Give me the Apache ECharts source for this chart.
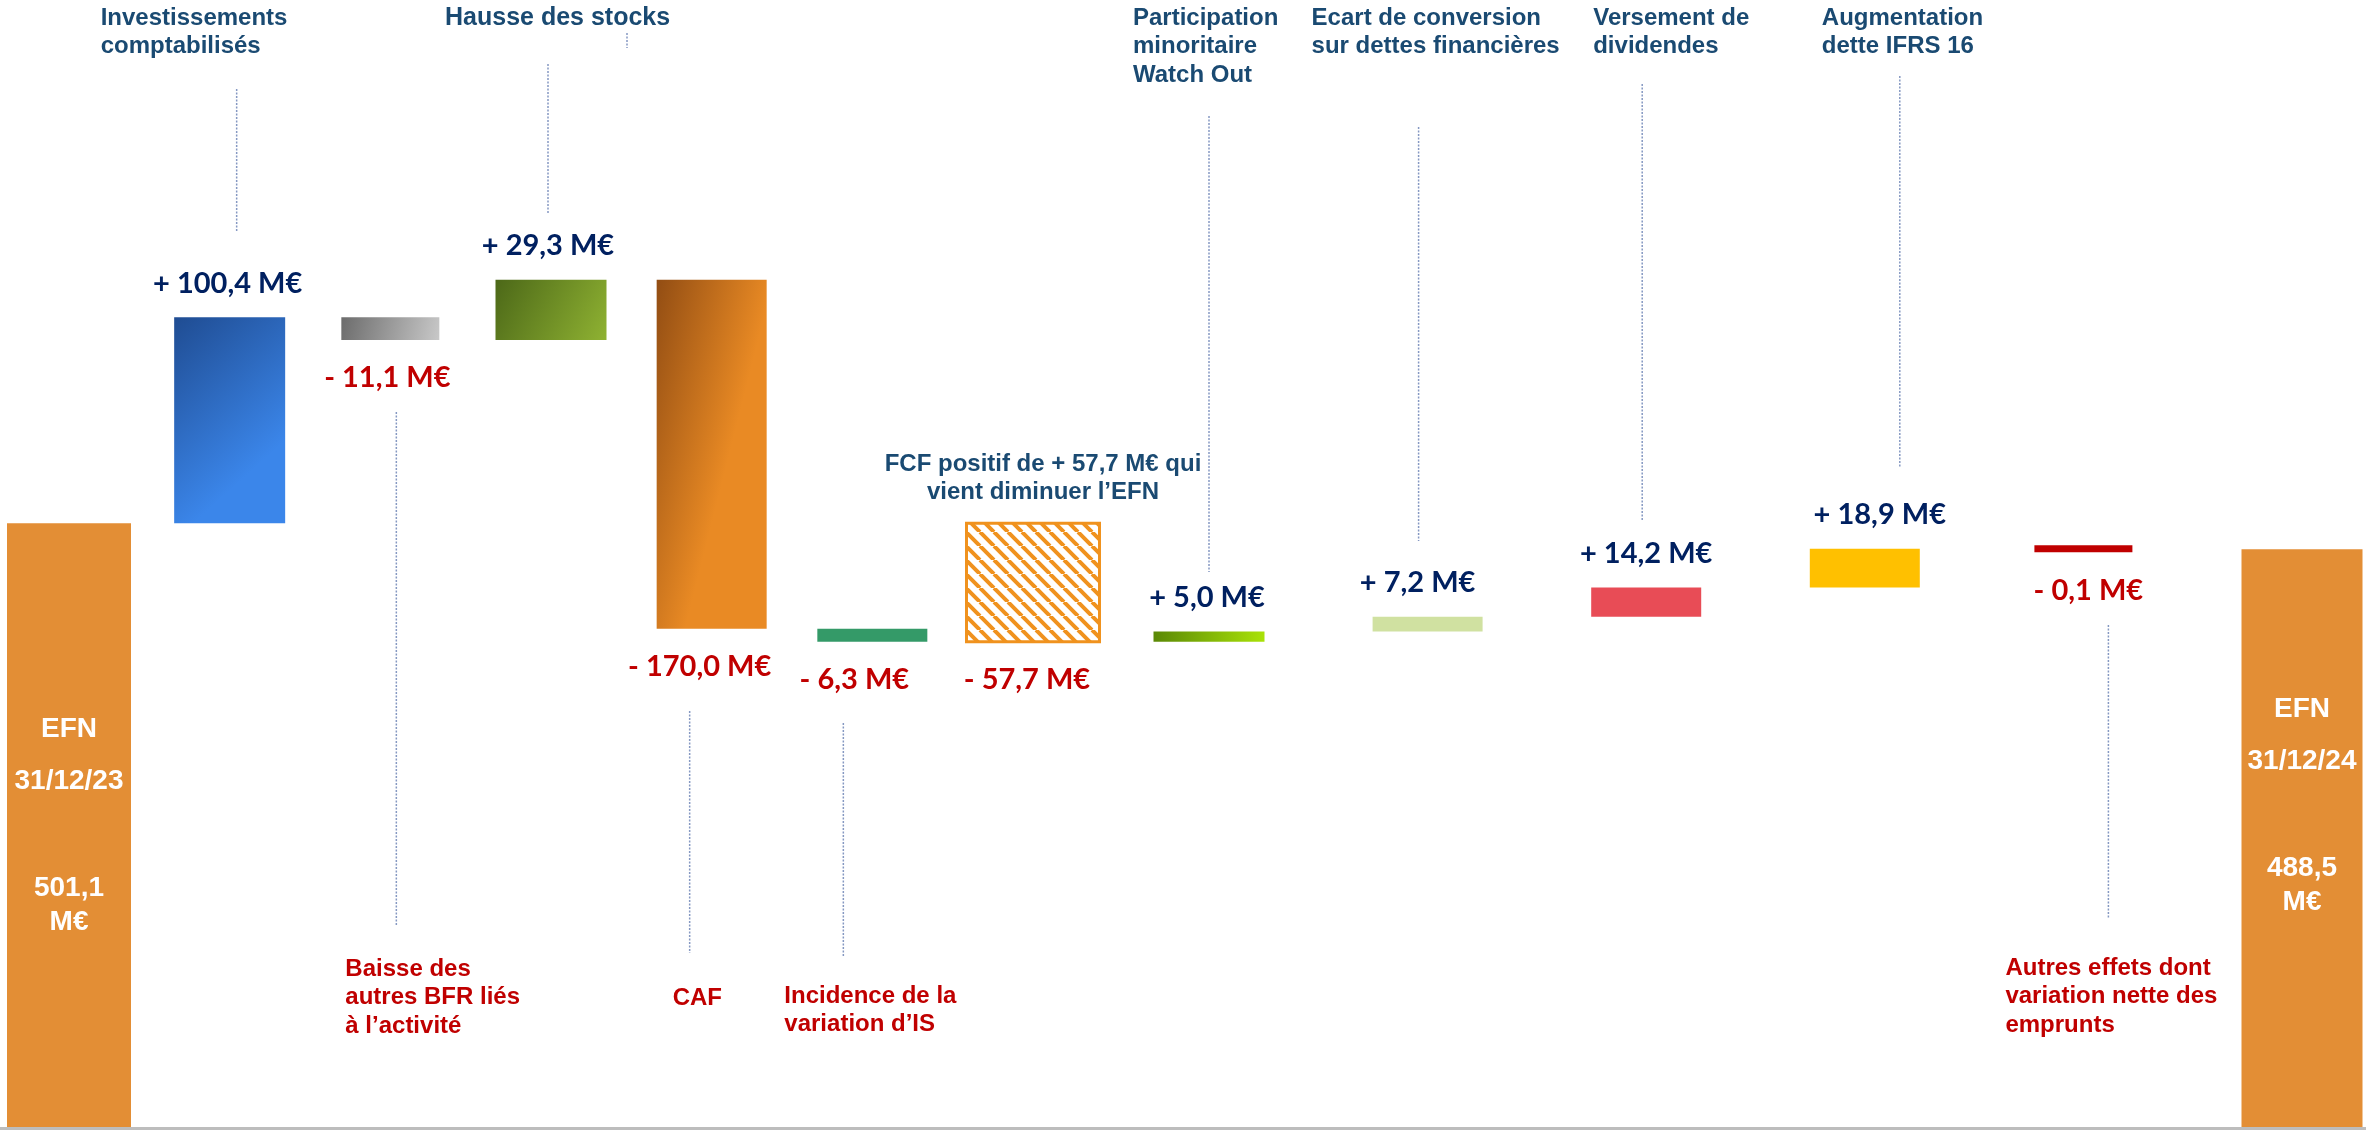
<!DOCTYPE html>
<html><head><meta charset="utf-8">
<script src="https://cdn.jsdelivr.net/npm/echarts@6/dist/echarts.min.js"></script>
<style>html,body{margin:0;padding:0;background:#fff;overflow:hidden}#c{width:2366px;height:1130px}</style>
</head><body><div id="c"></div>
<script>
// ---------------- DATA ----------------
const categories = [
  'EFN\n31/12/23',
  'Investissements\ncomptabilisés',
  'Baisse des\nautres BFR liés\nà l’activité',
  'Hausse des stocks',
  'CAF',
  'Incidence de la\nvariation d’IS',
  'FCF',
  'Participation\nminoritaire\nWatch Out',
  'Ecart de conversion\nsur dettes financières',
  'Versement de\ndividendes',
  'Augmentation\ndette IFRS 16',
  'Autres effets dont\nvariation nette des\nemprunts',
  'EFN\n31/12/24'
];
const values = [501.1, 100.4, -11.1, 29.3, -170.0, -6.3, -57.7, 5.0, 7.2, 14.2, 18.9, -0.1, 488.5];
const kinds  = ['total','step','step','step','step','step','subtotal','step','step','step','step','step','total'];
const fcfNote = 'FCF positif de + 57,7 M€ qui\nvient diminuer l’EFN';

// ---------------- LAYOUT / STYLE ----------------
const Y_MIN = 207, Y_MAX = 756;
const LEFT_COUNT = 7;
const MIN_H = 7;
const widths = [124,111,98,111,110,110,133,111,110,110,110,98,121];
const NAVY = '#002060', RED = '#C00000', TEAL = '#1A4A72', ORANGE = '#E38E35';
function lg(x, y, x2, y2, c1, c2) {
  return {type:'linear', x:x, y:y, x2:x2, y2:y2, colorStops:[{offset:0,color:c1},{offset:1,color:c2}]};
}
function hatch() {
  const s = 14, c = document.createElement('canvas');
  c.width = s; c.height = s;
  const g = c.getContext('2d');
  g.fillStyle = '#fff'; g.fillRect(0,0,s,s);
  g.strokeStyle = '#F0921E'; g.lineWidth = 4;
  g.beginPath();
  [-s, 0, s].forEach(k => { g.moveTo(k, 0); g.lineTo(k + s, s); });
  g.stroke();
  return c;
}
const fills = [
  ORANGE,
  lg(0,0,1,0.6,'#1F4C92','#3B86EA'),
  lg(0,0,1,1,'#6C6C6C','#C8C8C8'),
  lg(0,0,1,1,'#4C6818','#8FB232'),
  lg(0,0,1,0.08,'#924D13','#E98A24'),
  '#349A68',
  {image: hatch(), repeat:'repeat'},
  lg(0,0,1,0.5,'#5A8806','#A9E208'),
  '#D0E1A1',
  '#E84C56',
  '#FFC000',
  '#C00000',
  ORANGE
];
// annotation layout: dx relative to bar centre, top = y of text block top
const notes = {
  1:  {dx:-129, top:4,   color:TEAL, lead:{dx:7,   y:[89,232]}},
  2:  {dx:-45,  top:955, color:RED,  lead:{dx:6,   y:[412,925]}},
  3:  {dx:-106, top:4,   color:TEAL, size:25, lead:{dx:-3, y:[64,214]}, lead2:{dx:76, y:[33,48]}},
  4:  {dx:-39,  top:984, color:RED,  lead:{dx:-22, y:[711,953]}},
  5:  {dx:-88,  top:982, color:RED,  lead:{dx:-29, y:[723,956]}},
  7:  {dx:-76,  top:4,   color:TEAL, lead:{dx:0,   y:[116,572]}},
  8:  {dx:-116, top:4,   color:TEAL, lead:{dx:-9,  y:[127,541]}},
  9:  {dx:-53,  top:4,   color:TEAL, lead:{dx:-4,  y:[84,521]}},
  10: {dx:-43,  top:4,   color:TEAL, lead:{dx:35,  y:[76,467]}},
  11: {dx:-78,  top:954, color:RED,  lead:{dx:25,  y:[625,919]}}
};
const labelDx = [0,-2,-3,-3,-12,-18,-6,-2,-10,0,15,5,0];
const totalFromBottom = {0:398, 12:418};
const totalLineOffsets = [0, 52, 159, 193];

// ---------------- WATERFALL ----------------
const bars = [];
let level = 0, lastTotal = 0;
values.forEach((v, i) => {
  let lo, hi;
  if (kinds[i] === 'total') { lo = 0; hi = v; level = v; lastTotal = v; }
  else if (kinds[i] === 'subtotal') { lo = Math.min(lastTotal, lastTotal + v); hi = Math.max(lastTotal, lastTotal + v); }
  else { lo = Math.min(level, level + v); hi = Math.max(level, level + v); level += v; }
  bars.push([lo, hi]);
});
function fmtNum(v) { return Math.abs(v).toFixed(1).replace('.', ','); }
function fmtDelta(v) { return (v >= 0 ? '+ ' : '- ') + fmtNum(v) + ' M€'; }

function txt(text, x, y, o) {
  return {type:'text', z2:10, style:{
    text:text, x:x, y:y, fill:o.fill, fontFamily:o.family || 'Liberation Sans',
    fontWeight:'bold', fontSize:o.size || 24, align:o.align || 'left',
    verticalAlign:o.valign || 'top', lineHeight:o.lh || 28.5
  }};
}
function lead(x, y1, y2) {
  return {type:'line', shape:{x1:x, y1:y1, x2:x, y2:y2},
    style:{stroke:'#8598C2', lineWidth:1.5, lineDash:[2,1.5]}};
}

function renderItem(params, api) {
  const i = api.value(3);
  const cat = api.value(0);
  const cs = params.coordSys;
  const gridBottom = cs.y + cs.height;
  const pHi = api.coord([cat, api.value(2)]);
  const pLo = api.coord([cat, api.value(1)]);
  const x = pHi[0];
  let yTop = pHi[1];
  let yBot = Math.min(pLo[1], gridBottom);
  if (yBot - yTop < MIN_H) { const m = (yTop + yBot) / 2; yTop = m - MIN_H / 2; yBot = m + MIN_H / 2; }
  const w = widths[i];
  const ch = [];
  const isHatch = kinds[i] === 'subtotal';
  ch.push({type:'rect', shape:{x:x - w / 2, y:yTop, width:w, height:yBot - yTop},
    style:{fill:fills[i], stroke:isHatch ? '#F0921E' : null, lineWidth:isHatch ? 3 : 0}});
  const v = values[i];
  if (kinds[i] === 'total') {
    const parts = categories[i].split('\n');
    const lines = [parts[0], parts[1], fmtNum(v), 'M€'];
    const y0 = gridBottom - totalFromBottom[i];
    lines.forEach((t, k) => ch.push(txt(t, x, y0 + totalLineOffsets[k],
      {fill:'#fff', size:28, align:'center', valign:'middle'})));
  } else {
    const lx = x + labelDx[i];
    if (v >= 0) ch.push(txt(fmtDelta(v), lx, yTop - 34, {fill:NAVY, family:'Lato', size:29, align:'center', valign:'middle'}));
    else ch.push(txt(fmtDelta(v), lx, yBot + 38, {fill:RED, family:'Lato', size:29, align:'center', valign:'middle'}));
  }
  if (isHatch) {
    ch.push(txt(fcfNote, x + 10, yTop - 59 - 14.25, {fill:TEAL, size:24, align:'center', valign:'top'}));
  }
  const n = notes[i];
  if (n) {
    ch.push(lead(x + n.lead.dx, n.lead.y[0], n.lead.y[1]));
    if (n.lead2) ch.push(lead(x + n.lead2.dx, n.lead2.y[0], n.lead2.y[1]));
    ch.push(txt(categories[i], x + n.dx, n.top, {fill:n.color, size:n.size || 24}));
  }
  return {type:'group', children:ch};
}

const leftData = [], rightData = [];
bars.forEach((b, i) => {
  if (i < LEFT_COUNT) leftData.push([i, b[0], b[1], i]);
  else rightData.push([i - LEFT_COUNT, b[0], b[1], i]);
});

const chart = echarts.init(document.getElementById('c'));
chart.setOption({
  animation:false,
  backgroundColor:'#fff',
  grid:[
    {left:0, right:0, top:0, bottom:1.5},
    {left:69, width:964, top:0, bottom:3},
    {left:1209, width:1093, top:0, bottom:3}
  ],
  xAxis:[
    {gridIndex:0, type:'value', min:0, max:1,
      axisLine:{show:true, onZero:false, lineStyle:{color:'#BDBDBD', width:3}},
      axisTick:{show:false}, axisLabel:{show:false}, splitLine:{show:false}},
    {gridIndex:1, type:'category', data:categories.slice(0, LEFT_COUNT), boundaryGap:false, show:false},
    {gridIndex:2, type:'category', data:categories.slice(LEFT_COUNT), boundaryGap:false, show:false}
  ],
  yAxis:[
    {gridIndex:0, type:'value', min:0, max:1, show:false},
    {gridIndex:1, type:'value', min:Y_MIN, max:Y_MAX, show:false},
    {gridIndex:2, type:'value', min:Y_MIN, max:Y_MAX, show:false}
  ],
  series:[
    {type:'custom', xAxisIndex:1, yAxisIndex:1, clip:false, renderItem:renderItem,
      encode:{x:0, y:[1,2]}, data:leftData},
    {type:'custom', xAxisIndex:2, yAxisIndex:2, clip:false, renderItem:renderItem,
      encode:{x:0, y:[1,2]}, data:rightData}
  ]
});
</script></body></html>
